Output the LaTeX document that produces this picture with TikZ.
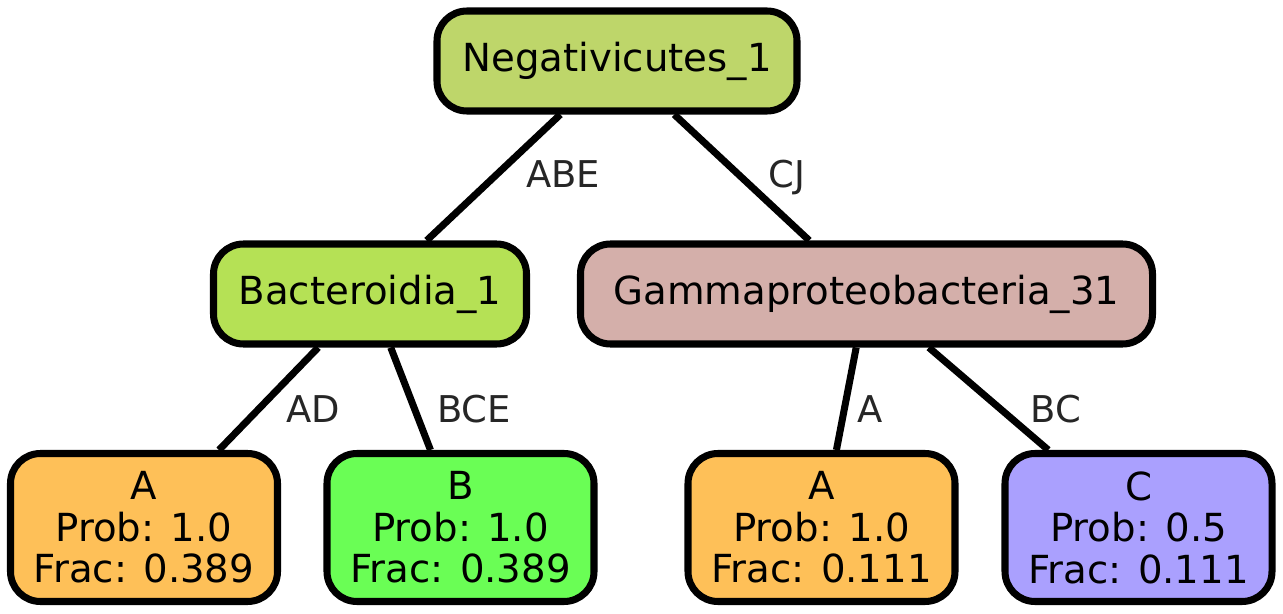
\documentclass[tikz,border=0pt]{standalone}
\usepackage{fontspec}
\setmainfont{DejaVu Sans}
\usetikzlibrary{positioning}

\definecolor{negfill}{HTML}{BED66A}
\definecolor{bacfill}{HTML}{B5E155}
\definecolor{gamfill}{HTML}{D4AFAA}
\definecolor{afill}{HTML}{FEC058}
\definecolor{bfill}{HTML}{6AFE55}
\definecolor{cfill}{HTML}{AAA0FE}

\begin{document}
\begin{tikzpicture}[font=\fontsize{22}{23.6}\selectfont,taxon/.style={draw,line width=4pt,rounded corners=0.6cm,minimum height=2.0cm,inner sep=0pt},leaf/.style={taxon,align=center,minimum width=5.34cm,minimum height=2.96cm},edge/.style={line width=4pt},elabel/.style={text=black!85,font=\fontsize{21}{24}\selectfont,inner sep=0pt,anchor=base}]
\useasboundingbox (0,0) rectangle (25.66,12.26);
\node[taxon,fill=negfill,minimum width=7.2cm] (neg) at (12.34,11.04){Negativicutes\_1};
\node[taxon,fill=bacfill,minimum width=6.26cm] (bac) at (7.40,6.38){Bacteroidia\_1};
\node[taxon,fill=gamfill,minimum width=11.44cm] (gam) at (17.33,6.38){Gammaproteobacteria\_31};
\node[leaf,fill=afill] (la) at (2.88,1.71){A\\Prob: 1.0\\Frac: 0.389};
\node[leaf,fill=bfill] (lb) at (9.21,1.71){B\\Prob: 1.0\\Frac: 0.389};
\node[leaf,fill=afill] (la2) at (16.43,1.71){A\\Prob: 1.0\\Frac: 0.111};
\node[leaf,fill=cfill] (lc) at (22.77,1.71){C\\Prob: 0.5\\Frac: 0.111};
\draw[edge] (neg) -- (bac); \draw[edge] (neg) -- (gam);
\draw[edge] (bac) -- (la); \draw[edge] (bac) -- (lb);
\draw[edge] (gam) -- (la2); \draw[edge] (gam) -- (lc);
% edge labels
\node[elabel] (tabe) at (11.26,8.50){ABE};
\node[elabel] (tcj) at (15.74,8.50){CJ};
\node[elabel] (tad) at (6.26,3.82){AD};
\node[elabel] (tbce) at (9.48,3.82){BCE};
\node[elabel] (ta) at (17.41,3.82){A};
\node[elabel] (tbc) at (21.12,3.82){BC};
\end{tikzpicture}
\end{document}
